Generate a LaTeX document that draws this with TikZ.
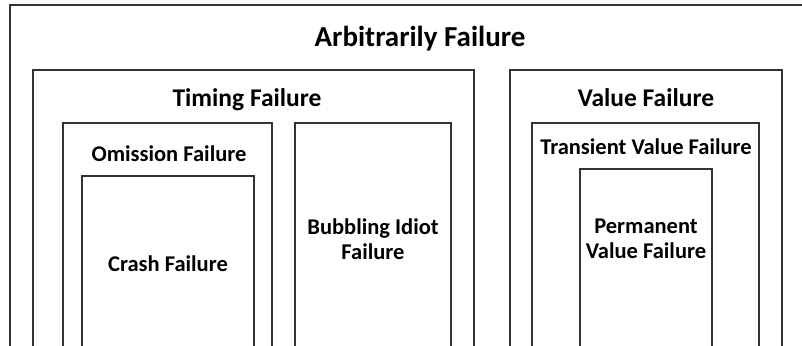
\documentclass[tikz,border=0pt]{standalone}
\usepackage{fontspec}
\setmainfont{Carlito}
\begin{document}
\begin{tikzpicture}[x=1pt,y=-1pt,
  frame/.style={draw=black!80, line width=1.3pt},
  big/.style={font=\bfseries\fontsize{29}{32}\selectfont, anchor=base},
  mid/.style={font=\bfseries\fontsize{25.5}{28}\selectfont, anchor=base},
  small/.style={font=\bfseries\fontsize{22.5}{25}\selectfont, anchor=base, align=center}]
\useasboundingbox (0,0) rectangle (802,345);
\fill[white] (0,0) rectangle (802,345);
\begin{scope}
\clip (0,0) rectangle (802,345);
% nested failure classes
\draw[frame] (10,5) rectangle (815,400);
\draw[frame] (33,70) rectangle (474,400);
\draw[frame] (510,70) rectangle (782,400);
\draw[frame] (63,123) rectangle (272,400);
\draw[frame] (82,176) rectangle (254,400);
\draw[frame] (295,123) rectangle (451,400);
\draw[frame] (532,123) rectangle (759,400);
\draw[frame] (580,169) rectangle (712,400);
\end{scope}
% class labels
\node[big] (arb) at (420,46) {Arbitrarily Failure};
\node[mid] (tim) at (247,106) {Timing Failure};
\node[mid] (val) at (646,106) {Value Failure};
\node[small] (omi) at (169,161) {Omission Failure};
\node[small] (tra) at (646,154) {Transient Value Failure};
\node[small] (cra) at (168,271) {Crash Failure};
\node[small] (bub1) at (373,234) {Bubbling Idiot};
\node[small] (bub2) at (373,259) {Failure};
\node[small] (per1) at (646,233) {Permanent};
\node[small] (per2) at (646,258) {Value Failure};
\end{tikzpicture}
\end{document}
